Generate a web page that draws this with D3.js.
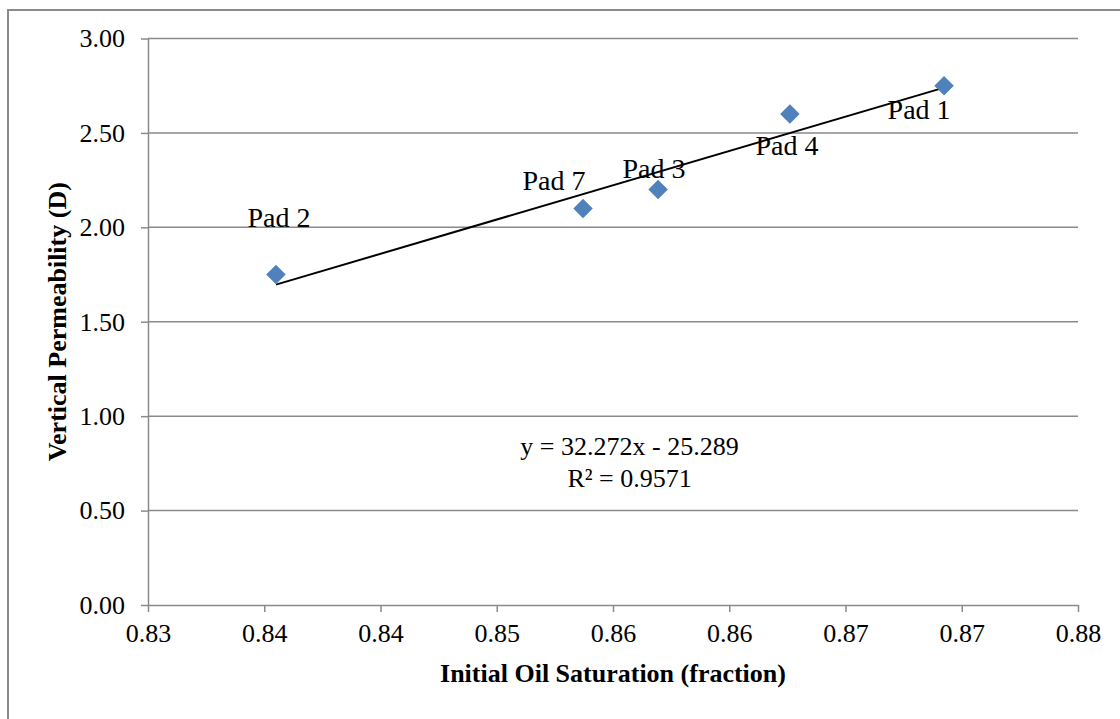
<!DOCTYPE html>
<meta charset="utf-8">
<style>
body { margin: 0; background: #fff; }
svg text { font-family: "Liberation Serif", "Times New Roman", serif; fill: #000; }
.grid line { stroke: #8a8a8a; stroke-width: 1.5; }
.axis path, .axis line { stroke: #8a8a8a; stroke-width: 1.5; fill: none; }
.axis text { font-size: 26px; }
.title { font-size: 26px; font-weight: bold; }
.lbl { font-size: 28px; text-anchor: middle; }
.eq { font-size: 26px; text-anchor: middle; }
.pt { fill: #4f81bd; }
</style>
<body>
<script src="https://d3js.org/d3.v7.min.js"></script>
<script>

// data
var pads = ["Pad 2", "Pad 7", "Pad 3", "Pad 4", "Pad 1"];
var saturation = [0.83619, 0.85105, 0.85468, 0.86106, 0.86852];
var permeability = [1.75, 2.10, 2.20, 2.60, 2.75];

var xDomain = [0.830, 0.875];
var xTickLabels = ["0.83", "0.84", "0.84", "0.85", "0.86", "0.86", "0.87", "0.87", "0.88"];
var yTicks = [0, 0.5, 1, 1.5, 2, 2.5, 3];

var slope = 32.272, intercept = -25.289, r2 = "0.9571";

// label offsets from each point (dx, dy) - placed by hand like the original
var labelOffsets = [[3, -48], [-29, -18], [-4, -12], [-3, 41], [-25, 33]];

var width = 1120, height = 719;
var margin = {top: 38.5, right: 42, bottom: 114, left: 148};

var svg = d3.select("body").append("svg")
    .attr("width", width)
    .attr("height", height);

// outer border
svg.append("rect")
    .attr("x", 8).attr("y", 10)
    .attr("width", width).attr("height", height)
    .attr("fill", "none")
    .attr("stroke", "#8a8a8a")
    .attr("stroke-width", 2);

var x = d3.scaleLinear().domain(xDomain).range([margin.left, width - margin.right]);
var y = d3.scaleLinear().domain([0, 3]).range([height - margin.bottom, margin.top]);

var xTicks = d3.range(xTickLabels.length).map(function(i) {
  return xDomain[0] + i * (xDomain[1] - xDomain[0]) / (xTickLabels.length - 1);
});

// horizontal gridlines
svg.append("g").attr("class", "grid")
  .selectAll("line").data(yTicks.slice(1))
  .enter().append("line")
    .attr("x1", x.range()[0]).attr("x2", x.range()[1])
    .attr("y1", function(d) { return y(d); })
    .attr("y2", function(d) { return y(d); });

var xAxis = d3.axisBottom(x)
    .tickValues(xTicks)
    .tickSize(7)
    .tickSizeOuter(0)
    .tickPadding(12)
    .tickFormat(function(d, i) { return xTickLabels[i]; });

var yAxis = d3.axisLeft(y)
    .tickValues(yTicks)
    .tickSize(7)
    .tickSizeOuter(0)
    .tickPadding(16)
    .tickFormat(d3.format(".2f"));

svg.append("g")
    .attr("class", "x axis")
    .attr("transform", "translate(0," + y(0) + ")")
    .call(xAxis);

svg.append("g")
    .attr("class", "y axis")
    .attr("transform", "translate(" + x.range()[0] + ",0)")
    .call(yAxis);

svg.selectAll(".axis text").attr("font-family", "Liberation Serif");

// trendline
var xmin = d3.min(saturation), xmax = d3.max(saturation);
svg.append("line")
    .attr("x1", x(xmin)).attr("y1", y(slope * xmin + intercept))
    .attr("x2", x(xmax)).attr("y2", y(slope * xmax + intercept))
    .attr("stroke", "#000")
    .attr("stroke-width", 2);

// points
var pts = pads.map(function(p, i) {
  return {name: p, x: saturation[i], y: permeability[i], off: labelOffsets[i]};
});

var diamond = d3.symbol().type(d3.symbolSquare).size(190);

svg.selectAll(".pt").data(pts)
  .enter().append("path")
    .attr("class", "pt")
    .attr("d", diamond)
    .attr("transform", function(d) {
      return "translate(" + x(d.x) + "," + y(d.y) + ") rotate(45)";
    });

svg.selectAll(".lbl").data(pts)
  .enter().append("text")
    .attr("class", "lbl")
    .attr("x", function(d) { return x(d.x) + d.off[0]; })
    .attr("y", function(d) { return y(d.y) + d.off[1]; })
    .text(function(d) { return d.name; });

// equation
var eqX = x(0.8533);
svg.append("text").attr("class", "eq")
    .attr("x", eqX).attr("y", 455)
    .text("y = " + slope + "x - " + Math.abs(intercept));
svg.append("text").attr("class", "eq")
    .attr("x", eqX).attr("y", 487)
    .text("R² = " + r2);

// axis titles
svg.append("text").attr("class", "title")
    .attr("x", (x.range()[0] + x.range()[1]) / 2)
    .attr("y", 682)
    .attr("text-anchor", "middle")
    .text("Initial Oil Saturation (fraction)");

svg.append("text").attr("class", "title")
    .attr("transform", "translate(66," + (y(0) + y(3)) / 2 + ") rotate(-90)")
    .attr("text-anchor", "middle")
    .text("Vertical Permeability (D)");

</script>
</body>
